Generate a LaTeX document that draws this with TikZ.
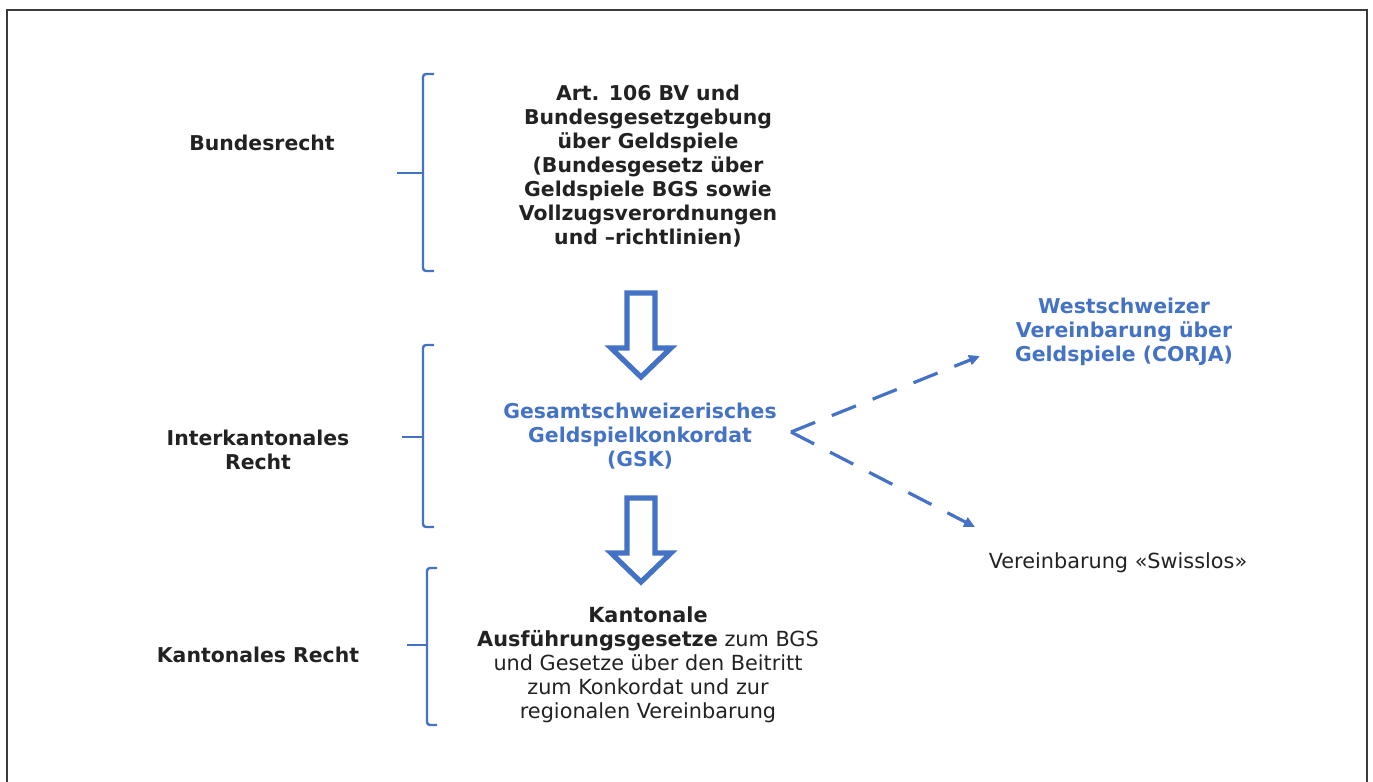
\documentclass[tikz,border=0pt]{standalone}
\usepackage{fontspec}
\setmainfont{DejaVu Sans}
\usetikzlibrary{arrows.meta,positioning,calc}
\definecolor{lawblue}{HTML}{4472C4}
\definecolor{ink}{HTML}{222222}
\definecolor{framegray}{HTML}{3A3A3A}
\newcommand{\hollowarrow}[2]{%
  \draw[hollow] (#1-14,#2) -- ++(28,0) -- ++(0,55) -- ++(16,0) -- ++(-30,29)
        -- ++(-30,-29) -- ++(16,0) -- cycle;}

\begin{document}
\begin{tikzpicture}[x=0.5pt,y=-0.5pt,
    level/.style={font=\bfseries\fontsize{10.2}{12}\selectfont,text=ink,align=center},
    body/.style={font=\fontsize{10.4}{12}\selectfont,text=ink,align=center},
    bluebody/.style={font=\bfseries\fontsize{10.2}{12}\selectfont,text=lawblue,align=center},
    brace/.style={draw=lawblue,line width=1.2pt,rounded corners=1.5pt},
    hollow/.style={draw=lawblue,line width=2.6pt,fill=white,line join=miter},
    flow/.style={-{Triangle[length=5.5pt,width=5pt]},lawblue,line width=1.6pt,
                 dash pattern=on 13pt off 9pt}]

  \useasboundingbox (0,0) rectangle (1373,782);
  \draw[framegray,line width=0.8pt] (7,782) -- (7,10) -- (1367,10) -- (1367,782);

  % levels on the left
  \node[level] (bund) at (262,143) {Bundesrecht};
  \node[level] (inter) at (258,450) {Interkantonales\\Recht};
  \node[level] (kant) at (258,655) {Kantonales Recht};

  % brackets
  \draw[brace] (434,74) -- (423,74) -- (423,271) -- (434,271);
  \draw[brace] (397,173) -- (423,173);
  \draw[brace] (434,345) -- (423,345) -- (423,527) -- (434,527);
  \draw[brace] (402,437) -- (423,437);
  \draw[brace] (437,568) -- (427,568) -- (427,725) -- (437,725);
  \draw[brace] (407,645) -- (427,645);

  % contents
  \node[level] (bv) at (648,166) {Art. 106 BV und\\Bundesgesetzgebung\\über Geldspiele\\(Bundesgesetz über\\Geldspiele BGS sowie\\Vollzugsverordnungen\\und –richtlinien)};
  \node[bluebody] (gsk) at (640,436) {Gesamtschweizerisches\\Geldspielkonkordat\\(GSK)};
  \node[body] (kanttext) at (648,665) {\textbf{Kantonale}\\\textbf{Ausführungsgesetze} zum BGS\\und Gesetze über den Beitritt\\zum Konkordat und zur\\regionalen Vereinbarung};
  \node[bluebody] (corja) at (1124,332) {Westschweizer\\Vereinbarung über\\Geldspiele (CORJA)};
  \node[body] (swisslos) at (1118,563) {Vereinbarung «Swisslos»};

  % hollow arrows down
  \hollowarrow{641}{293}
  \hollowarrow{641}{498}

  % regional agreements
  \coordinate (fork) at (791,432);
  \coordinate (tipW) at (980,356);
  \coordinate (tipS) at (975,527);
  \draw[flow] (fork) -- (tipW);
  \draw[flow] (fork) -- (tipS);
\end{tikzpicture}
\end{document}
